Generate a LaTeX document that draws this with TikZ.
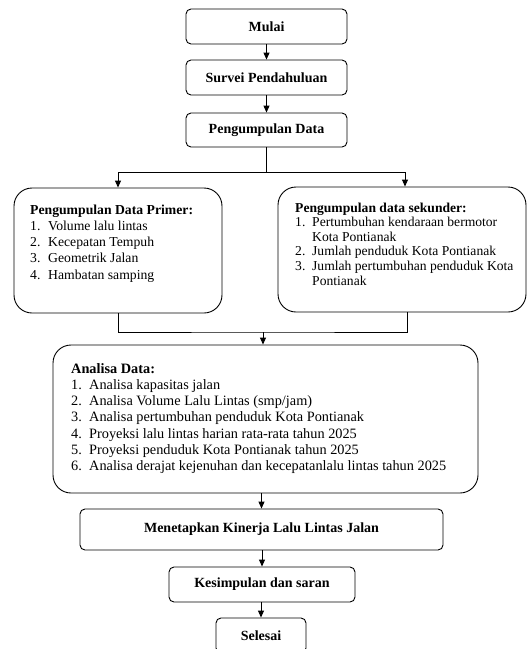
\documentclass[tikz,border=0pt]{standalone}
\usepackage{fontspec}
\setmainfont{Liberation Serif}
\usetikzlibrary{arrows.meta}
\newcommand\numlbl[2]{\makebox[#1][l]{#2}}
\begin{document}
\begin{tikzpicture}[x=1pt,y=-1pt,
  box/.style={draw,line width=0.9pt,rounded corners=5pt,inner sep=0pt,font=\fontsize{14}{16.8}\selectfont\bfseries},
  bigbox/.style={draw,line width=0.9pt,rounded corners=18pt,inner sep=0pt},
  txt/.style={inner sep=0pt,anchor=base west},
  conn/.style={line width=0.9pt},
  arr/.style={conn,-{Triangle[length=7pt,width=6pt]}}]
\useasboundingbox (0,0) rectangle (527,649);
\clip (0,0) rectangle (527,649);

\node[box,minimum width=161pt,minimum height=35pt] (mulai) at (266.5,26.5) {Mulai};
\node[box,minimum width=161pt,minimum height=35pt] (survei) at (266.5,77.5) {Survei Pendahuluan};
\node[box,minimum width=161pt,minimum height=34pt] (peng) at (266.5,130) {Pengumpulan Data};

\node[bigbox,minimum width=208pt,minimum height=125pt] (primer) at (118,250.5) {};
\node[bigbox,minimum width=248pt,minimum height=125pt] (sek) at (402,249.5) {};
\node[bigbox,minimum width=425pt,minimum height=148pt] (analisa) at (265.5,419) {};

\node[box,minimum width=363pt,minimum height=41pt] (men) at (261.5,529.5) {Menetapkan Kinerja Lalu Lintas Jalan};
\node[box,minimum width=186pt,minimum height=35pt] (kes) at (262,584.5) {Kesimpulan dan saran};
\node[box,minimum width=90pt,minimum height=35pt] (sel) at (261,635.5) {Selesai};

\node[txt] (primertxt) at (30,214) {\fontsize{13.7}{16.3}\selectfont
  \begin{tabular}[t]{@{}l@{}}
  \textbf{Pengumpulan Data Primer:}\\
  \numlbl{18pt}{1.}Volume lalu lintas\\
  \numlbl{18pt}{2.}Kecepatan Tempuh\\
  \numlbl{18pt}{3.}Geometrik Jalan\\
  \numlbl{18pt}{4.}Hambatan samping
  \end{tabular}};

\node[txt] (sektxt) at (295,212) {\fontsize{13.6}{14.6}\selectfont
  \begin{tabular}[t]{@{}l@{}}
  \textbf{Pengumpulan data sekunder:}\\
  \numlbl{17pt}{1.}Pertumbuhan kendaraan bermotor\\
  \numlbl{17pt}{}Kota Pontianak\\
  \numlbl{17pt}{2.}Jumlah penduduk Kota Pontianak\\
  \numlbl{17pt}{3.}Jumlah pertumbuhan penduduk Kota\\
  \numlbl{17pt}{}Pontianak
  \end{tabular}};

\node[txt] (analisatxt) at (71,373) {\fontsize{14.3}{16.3}\selectfont
  \begin{tabular}[t]{@{}l@{}}
  \textbf{Analisa Data:}\\
  \numlbl{18pt}{1.}Analisa kapasitas jalan\\
  \numlbl{18pt}{2.}Analisa Volume Lalu Lintas (smp/jam)\\
  \numlbl{18pt}{3.}Analisa pertumbuhan penduduk Kota Pontianak\\
  \numlbl{18pt}{4.}Proyeksi lalu lintas harian rata-rata tahun 2025\\
  \numlbl{18pt}{5.}Proyeksi penduduk Kota Pontianak tahun 2025\\
  \numlbl{18pt}{6.}Analisa derajat kejenuhan dan kecepatanlalu lintas tahun 2025
  \end{tabular}};

\draw[arr] (mulai.south) -- (survei.north);
\draw[arr] (survei.south) -- (peng.north);
\coordinate (j1) at (266.5,172);
\draw[conn] (peng.south) -- (j1);
\draw[arr] (j1) -| (primer.north);
\draw[arr] (j1) -| ([xshift=3pt]sek.north);
\coordinate (j2) at (263,332);
\draw[conn] (primer.south) |- (j2) -| ([xshift=5pt]sek.south);
\draw[arr] (j2) -- (j2 |- analisa.north);
\draw[arr] (men.north |- analisa.south) -- (men.north);
\draw[arr] (kes.north |- men.south) -- (kes.north);
\draw[arr] (sel.north |- kes.south) -- (sel.north);
\end{tikzpicture}
\end{document}
